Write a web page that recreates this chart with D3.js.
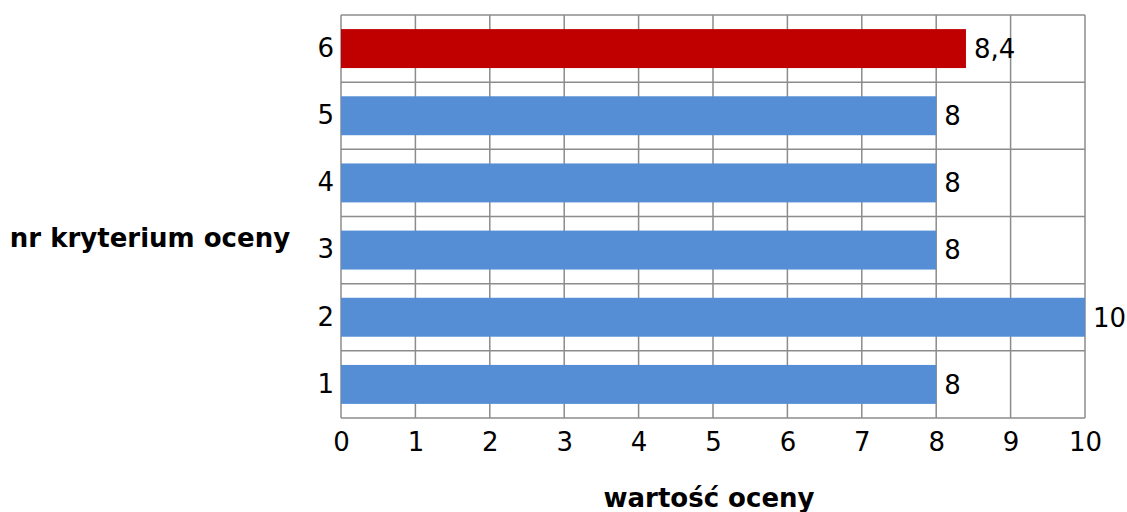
<!DOCTYPE html>
<html>
<head>
<meta charset="utf-8">
<script src="https://cdn.jsdelivr.net/npm/d3@7"></script>
<style>
  body { margin: 0; background: #fff; }
  text { font-family: "DejaVu Sans", sans-serif; fill: #000; }
</style>
</head>
<body>
<div id="chart"></div>
<script>
// criteria numbers and their scores
const categories = ["1", "2", "3", "4", "5", "6"];
const values = [8, 10, 8, 8, 8, 8.4];
const valueLabels = ["8", "10", "8", "8", "8", "8,4"];
const xTicks = [0, 1, 2, 3, 4, 5, 6, 7, 8, 9, 10];
const highlighted = "6";

const svgWidth = 1127;
const svgHeight = 512;
const margin = { top: 15, right: 42, bottom: 94, left: 341 };
const width = svgWidth - margin.left - margin.right;
const height = svgHeight - margin.top - margin.bottom;
const fontSize = 26;

const svg = d3.select("#chart").append("svg")
  .attr("width", svgWidth)
  .attr("height", svgHeight);

const chart = svg.append("g")
  .attr("transform", `translate(${margin.left},${margin.top})`);

const xScale = d3.scaleLinear().domain([0, 10]).range([0, width]);

// category 1 at the bottom
const yScale = d3.scaleBand()
  .domain(categories.slice().reverse())
  .range([0, height])
  .paddingInner(0.42)
  .paddingOuter(0.21);

const gridColor = "#8c8c8c";

// vertical grid lines
chart.append("g").selectAll("line")
  .data(xTicks)
  .join("line")
  .attr("x1", d => xScale(d))
  .attr("x2", d => xScale(d))
  .attr("y1", 0)
  .attr("y2", height)
  .attr("stroke", gridColor)
  .attr("stroke-width", 1.5);

// horizontal lines between categories
chart.append("g").selectAll("line")
  .data(d3.range(categories.length + 1))
  .join("line")
  .attr("x1", 0)
  .attr("x2", width)
  .attr("y1", i => i * height / categories.length)
  .attr("y2", i => i * height / categories.length)
  .attr("stroke", gridColor)
  .attr("stroke-width", 1.5);

const data = categories.map((c, i) => ({ cat: c, value: values[i], label: valueLabels[i] }));

chart.selectAll(".bar")
  .data(data)
  .join("rect")
  .attr("class", "bar")
  .attr("x", xScale(0))
  .attr("y", d => yScale(d.cat))
  .attr("width", d => xScale(d.value) - xScale(0))
  .attr("height", yScale.bandwidth())
  .attr("fill", d => d.cat === highlighted ? "#c00000" : "#558ed5");

chart.selectAll(".val")
  .data(data)
  .join("text")
  .attr("class", "val")
  .attr("x", d => xScale(d.value) + 8)
  .attr("y", d => yScale(d.cat) + yScale.bandwidth() / 2)
  .attr("dy", "0.36em")
  .attr("font-size", fontSize)
  .text(d => d.label);

// axes (text only, lines drawn by the grid)
const xAxis = chart.append("g")
  .attr("transform", `translate(0,${height})`)
  .call(d3.axisBottom(xScale).tickValues(xTicks).tickSize(0).tickPadding(15).tickFormat(d3.format("d")));
xAxis.select(".domain").remove();
xAxis.selectAll("text").attr("font-size", fontSize).attr("font-family", "DejaVu Sans");

const yAxis = chart.append("g")
  .call(d3.axisLeft(yScale).tickSize(0).tickPadding(7));
yAxis.select(".domain").remove();
yAxis.selectAll("text").attr("font-size", fontSize).attr("font-family", "DejaVu Sans");

svg.append("text")
  .attr("x", 150)
  .attr("y", 238)
  .attr("dy", "0.36em")
  .attr("text-anchor", "middle")
  .attr("font-size", fontSize)
  .attr("font-weight", "bold")
  .text("nr kryterium oceny");

svg.append("text")
  .attr("x", 709)
  .attr("y", 498)
  .attr("dy", "0.36em")
  .attr("text-anchor", "middle")
  .attr("font-size", fontSize)
  .attr("font-weight", "bold")
  .text("wartość oceny");
</script>
</body>
</html>
